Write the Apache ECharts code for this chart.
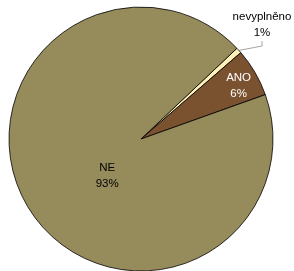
<!DOCTYPE html>
<html>
<head>
<meta charset="utf-8">
<script src="https://cdn.jsdelivr.net/npm/echarts@6/dist/echarts.min.js"></script>
<style>
  html, body { margin: 0; padding: 0; background: #fff; }
  #chart { width: 294px; height: 271px; }
</style>
</head>
<body>
<div id="chart"></div>
<script>
// odpovědi (podíl v %)
const categories = ['nevyplněno', 'ANO', 'NE'];
const values = [0.7, 5.9, 93.4];
const colors = ['#FFF2B8', '#7A5230', '#968B5A'];

// umístění popisků
const labelShift = [
    { x: 262, y: 25, align: 'center', verticalAlign: 'middle' },
    { dx: 38, dy: -18 },
    { dx: 25, dy: 1 }
];

const chart = echarts.init(document.getElementById('chart'));

chart.setOption({
    backgroundColor: '#ffffff',
    animation: false,
    series: [{
        type: 'pie',
        center: [141, 139],
        radius: 132,
        startAngle: 43.4,
        clockwise: true,
        itemStyle: { borderColor: '#000', borderWidth: 0.8 },
        label: {
            position: 'inside',
            fontFamily: 'Liberation Sans',
            fontSize: 11.5,
            lineHeight: 16,
            color: '#000',
            formatter: p => p.name + '\n' + Math.round(p.value) + '%'
        },
        labelLayout: p => labelShift[p.dataIndex],
        data: categories.map((c, i) => {
            const item = { name: c, value: values[i], itemStyle: { color: colors[i] } };
            if (c === 'ANO') item.label = { color: '#fff' };
            if (c === 'nevyplněno') {
                item.label = { position: 'outside', color: '#000', overflow: 'none', width: 80 };
                item.labelLine = {
                    show: true, length: 12, length2: 5,
                    lineStyle: { color: '#a6a6a6', width: 1 }
                };
            }
            return item;
        })
    }]
});
</script>
</body>
</html>
